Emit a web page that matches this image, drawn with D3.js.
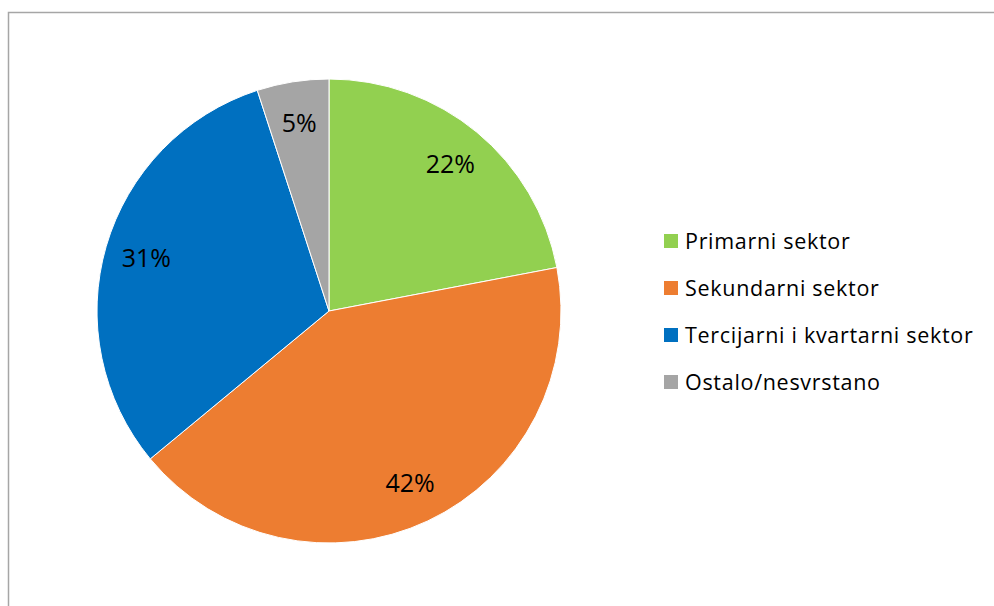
<!DOCTYPE html>
<html>
<head>
<meta charset="utf-8">
<script src="https://cdn.jsdelivr.net/npm/d3@7"></script>
<style>
  body { margin: 0; background: #fff; }
  text { font-family: "Open Sans", Lato, sans-serif; }
</style>
</head>
<body>
<div class="pie"></div>
<script>
var svgWidth = 994;
var svgHeight = 606;

// data
var categories = ["Primarni sektor", "Sekundarni sektor", "Tercijarni i kvartarni sektor", "Ostalo/nesvrstano"];
var shares = [22, 42, 31, 5];
var colors = ["#92d050", "#ed7d31", "#0070c0", "#a5a5a5"];

var cx = 329, cy = 311, radius = 232;

var svg = d3.select(".pie")
  .append("svg")
  .attr("width", svgWidth)
  .attr("height", svgHeight);

// chart area frame (top and left edges show)
svg.append("path")
  .attr("d", "M8.5,620 V12.5 H1000")
  .attr("fill", "none")
  .attr("stroke", "#a6a6a6")
  .attr("stroke-width", 1.5);

var data = categories.map((c, i) => ({ name: c, value: shares[i], color: colors[i] }));

var pie = d3.pie()
  .sort(null)
  .value(d => d.value);

var arc = d3.arc()
  .innerRadius(0)
  .outerRadius(radius);

var labelArc = d3.arc()
  .innerRadius(radius * 0.82)
  .outerRadius(radius * 0.82);

var chartGroup = svg.append("g")
  .attr("transform", `translate(${cx}, ${cy})`);

var arcs = pie(data);

chartGroup.selectAll("path")
  .data(arcs)
  .enter()
  .append("path")
  .attr("d", arc)
  .attr("fill", d => d.data.color)
  .attr("stroke", "#fff")
  .attr("stroke-width", 1);

chartGroup.selectAll(".lbl")
  .data(arcs)
  .enter()
  .append("text")
  .attr("class", "lbl")
  .attr("transform", d => `translate(${labelArc.centroid(d)})`)
  .attr("text-anchor", "middle")
  .attr("dy", "0.36em")
  .attr("font-size", 25)
  .attr("fill", "#000")
  .text(d => d.data.value + "%");

// legend
var legend = svg.append("g")
  .attr("transform", "translate(664, 241)");

var rows = legend.selectAll("g")
  .data(data)
  .enter()
  .append("g")
  .attr("transform", (d, i) => `translate(0, ${i * 47})`);

rows.append("rect")
  .attr("x", 0)
  .attr("y", -7)
  .attr("width", 14)
  .attr("height", 14)
  .attr("fill", d => d.color);

rows.append("text")
  .attr("x", 21)
  .attr("dy", "0.35em")
  .attr("font-size", 21.5)
  .attr("letter-spacing", 0.7)
  .attr("fill", "#000")
  .text(d => d.name);
</script>
</body>
</html>
